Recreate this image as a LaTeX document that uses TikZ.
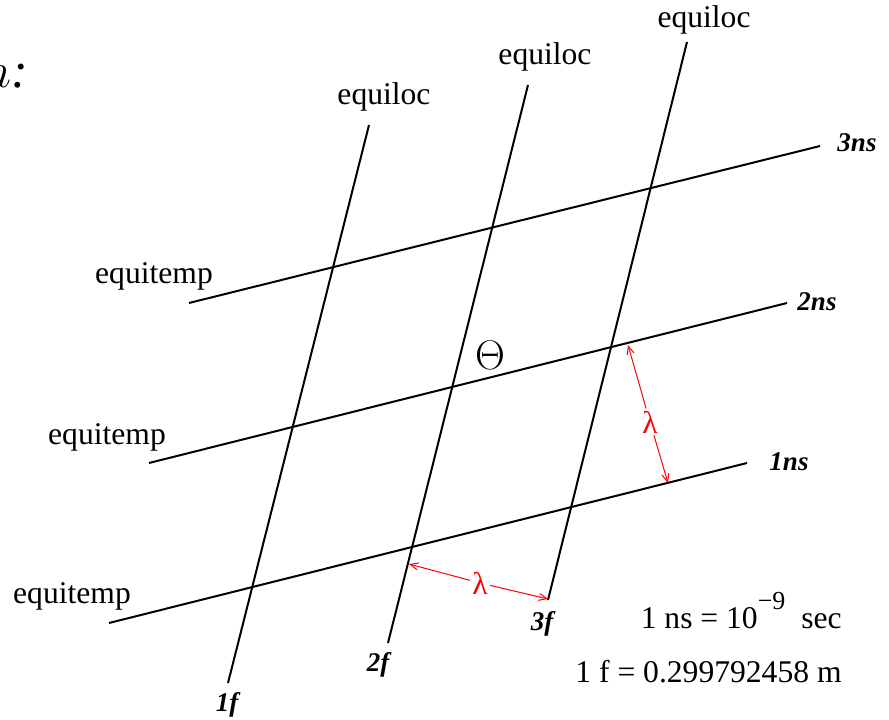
\documentclass[tikz,border=0pt]{standalone}
\usepackage{fontspec}
\setmainfont{Liberation Serif}
\usetikzlibrary{arrows.meta}
\definecolor{LamRed}{HTML}{FF0000}

\begin{document}
\begin{tikzpicture}[x=0.5pt,y=-0.5pt,
    grid/.style={line width=1pt},
    lam/.style={LamRed,line width=0.5pt,-{Straight Barb[length=4pt,width=3.5pt]}},
    tag/.style={font=\fontsize{13.5}{16}\selectfont\bfseries\itshape},
    word/.style={font=\fontsize{15.8}{19}\selectfont}]
  \useasboundingbox (0,0) rectangle (889,719);
  % cut-off heading
  \node[anchor=base east,inner sep=0pt,font=\fontsize{25}{30}\selectfont] (head) at (29,87) {$n$\textit{:}};
  % equiloc lines
  \coordinate (f1a) at (369,125); \coordinate (f1b) at (228,683);
  \coordinate (f2a) at (528,85);  \coordinate (f2b) at (388,643);
  \coordinate (f3a) at (687,42);  \coordinate (f3b) at (548,600);
  \draw[grid] (f1a) -- (f1b);
  \draw[grid] (f2a) -- (f2b);
  \draw[grid] (f3a) -- (f3b);
  \node[tag] (lf1) at (227,705) {1f};
  \node[tag] (lf2) at (378,665) {2f};
  \node[tag] (lf3) at (542,624) {3f};
  \node[word] (eq1) at (384,97) {equiloc};
  \node[word] (eq2) at (545,57) {equiloc};
  \node[word] (eq3) at (704,20) {equiloc};
  % equitemp lines
  \coordinate (t3a) at (189,303); \coordinate (t3b) at (820,146);
  \coordinate (t2a) at (149,463); \coordinate (t2b) at (787,303);
  \coordinate (t1a) at (109,623); \coordinate (t1b) at (747,463);
  \draw[grid] (t3a) -- (t3b);
  \draw[grid] (t2a) -- (t2b);
  \draw[grid] (t1a) -- (t1b);
  \node[tag] (lt3) at (857,143) {3ns};
  \node[tag] (lt2) at (817,302) {2ns};
  \node[tag] (lt1) at (789,462) {1ns};
  \node[word] (et3) at (154,276) {equitemp};
  \node[word] (et2) at (107,437) {equitemp};
  \node[word] (et1) at (72,596) {equitemp};
  \node[font=\fontsize{21}{24}\selectfont] (theta) at (490,355) {$\Theta$};
  % wavelengths
  \coordinate (wa) at (409,564); \coordinate (wb) at (548,599);
  \coordinate (wc) at (628,345); \coordinate (wd) at (668,483);
  \node[word,LamRed,inner sep=1pt] (lam1) at (480,583) {λ};
  \node[word,LamRed,inner sep=1pt] (lam2) at (650,422) {λ};
  \draw[lam] (lam1) -- (wa);
  \draw[lam] (lam1) -- (wb);
  \draw[lam] (lam2) -- (wc);
  \draw[lam] (lam2) -- (wd);
  % units
  \node[word,anchor=base east,inner sep=0pt] (ns) at (842,628)
    {1 ns = 10\raisebox{0.6em}{\fontsize{13}{15}\selectfont −9}\ \ sec};
  \node[word,anchor=base east,inner sep=0pt] (ff) at (842,682) {1 f = 0.299792458 m};
\end{tikzpicture}
\end{document}
